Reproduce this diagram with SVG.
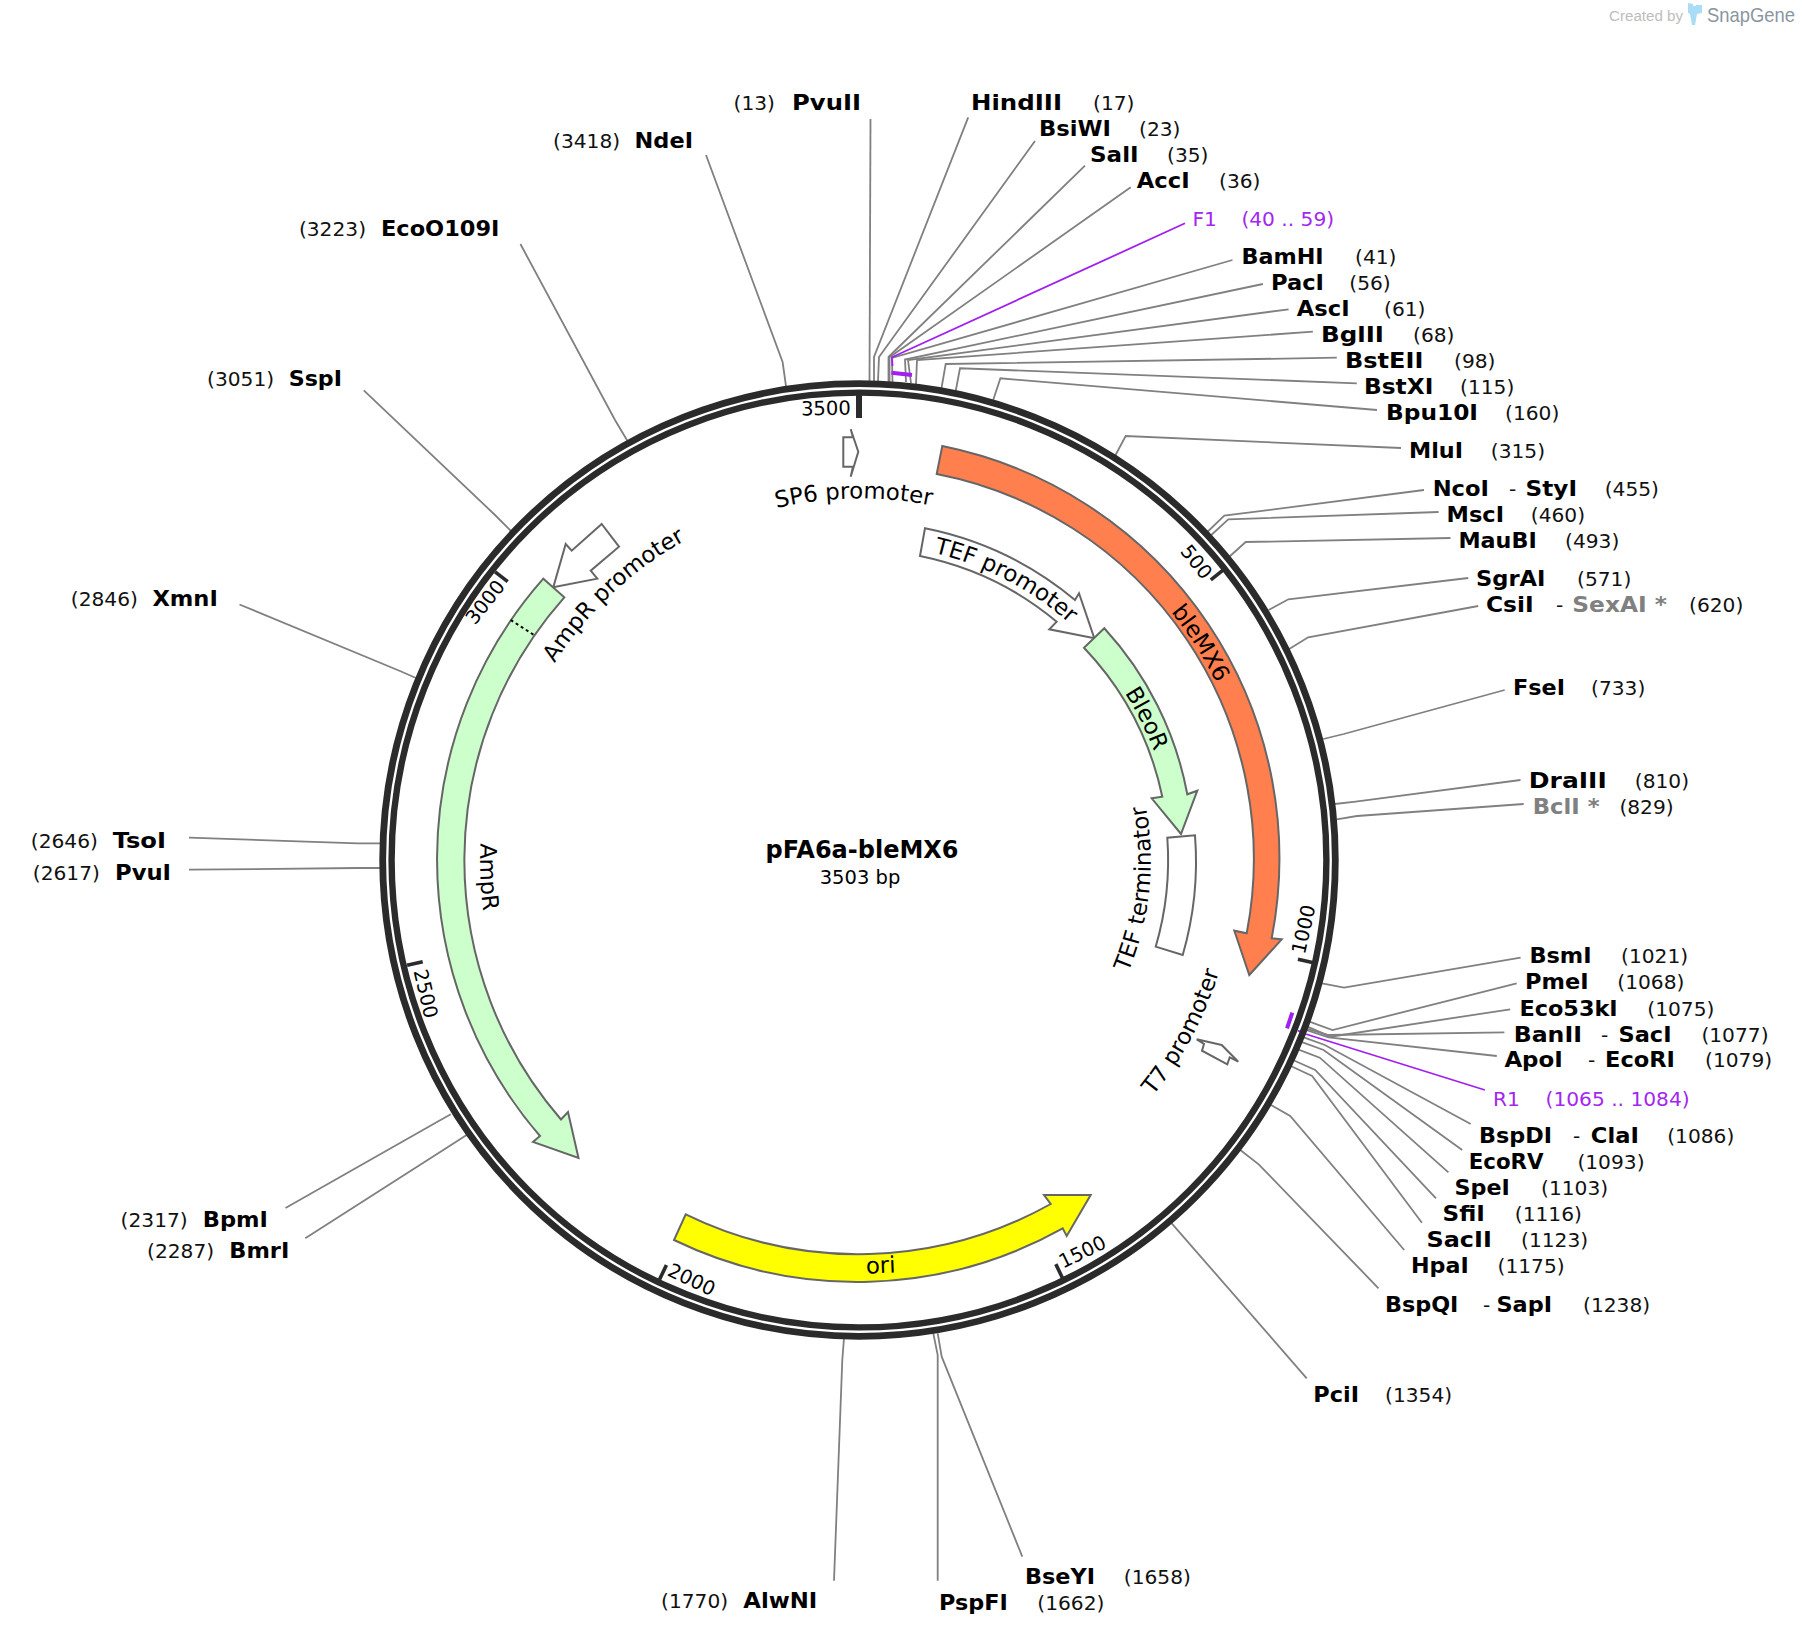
<svg xmlns="http://www.w3.org/2000/svg" width="1802" height="1636" viewBox="0 0 1802 1636">
<style>
text{font-family:"DejaVu Sans","Liberation Sans",sans-serif;fill:#000}
.n{font-weight:700;font-size:22px}
.p{font-size:20.2px;fill:#111}
.g{font-weight:700;font-size:22px;fill:#808080}
.v{font-size:20.2px;fill:#a327f0}
.t{font-size:19.5px;text-anchor:middle}
.f{font-size:22.8px}
.c{fill:none;stroke:#808080;stroke-width:1.8}
.cv{fill:none;stroke:#a020f0;stroke-width:1.8}
.a{stroke:#666;stroke-width:2;stroke-linejoin:miter}
.tk{stroke:#2b2b2b;stroke-width:3.6;fill:none}
</style>
<defs>
<path id="pBle" d="M1115.8,555.1 A398 398 0 0 1 1244.4,757"/>
<path id="pTef" d="M914.9,548.8 A316 316 0 0 1 1083.4,636.6"/>
<path id="pBleo" d="M1095.5,654 A314 314 0 0 1 1167.5,798"/>
<path id="pTerm" d="M1123.8,982.3 A291 291 0 0 0 1143.5,795"/>
<path id="pT7" d="M1102,1147.9 A376 376 0 0 0 1234,900"/>
<path id="pSP6" d="M637.5,575 A361.5 361.5 0 0 1 1072.5,567.5"/>
<path id="pAmpP" d="M502.6,796.6 A365 365 0 0 1 821.8,497"/>
<path id="pAmpR" d="M503,731 A380 380 0 0 0 515.5,1021"/>
</defs>
<rect width="1802" height="1636" fill="#fff"/>

<g id="watermark">
<text x="1609" y="20.5" style="font-family:'Liberation Sans',sans-serif;font-size:14px;fill:#bdbdbd" textLength="74" lengthAdjust="spacingAndGlyphs">Created by</text>
<polygon points="1688,3 1693,4 1693,6 1696,6 1696,5 1702,5 1702,13 1697,14 1695,25 1692,25 1690,14 1688,13" fill="#a9dcf7"/>
<text x="1707" y="21.5" style="font-family:'Liberation Sans',sans-serif;font-size:21px;fill:#8a96a0" textLength="88" lengthAdjust="spacingAndGlyphs">SnapGene</text>
</g>

<g id="connectors">
<polyline class="c" points="870.5,119 869.5,381"/>
<polyline class="c" points="968.2,117.3 874,357 874,381"/>
<polyline class="c" points="1035,141 879,357 878,381"/>
<polyline class="c" points="1085,165.7 888.5,357 888.5,382"/>
<polyline class="c" points="1130.7,187.3 889.5,357.3 889.5,382"/>
<polyline class="c" points="1232.5,260 892,358 892.5,382"/>
<polyline class="c" points="1262.9,284 905,359.5 906,382"/>
<polyline class="c" points="1288.6,309.3 908,360 911,383"/>
<polyline class="c" points="1312.9,331.7 917,360 916,384"/>
<polyline class="c" points="1336.8,357.7 945.7,364 941.5,388"/>
<polyline class="c" points="1356.8,383.3 960,368.3 955.7,391"/>
<polyline class="c" points="1377,410 1000.4,378.3 993.2,400"/>
<polyline class="c" points="1401,448 1125.7,436 1115,456"/>
<polyline class="c" points="1424,490 1224.3,515.7 1207.3,532"/>
<polyline class="c" points="1438.6,512 1228.3,519.3 1211.3,535"/>
<polyline class="c" points="1450.5,538 1245.7,542 1229,557"/>
<polyline class="c" points="1468.3,578 1288.4,599.3 1268.6,610"/>
<polyline class="c" points="1478.2,606 1308.2,637.3 1289.2,649"/>
<polyline class="c" points="1504.7,690 1343.8,734 1323.2,739"/>
<polyline class="c" points="1520.5,780 1355.6,801.7 1334.7,804"/>
<polyline class="c" points="1523.7,804 1357,816 1336.6,819.3"/>
<polyline class="c" points="1520.6,957.7 1344,987.7 1322,983.3"/>
<polyline class="c" points="1516.7,983.3 1332.5,1030 1309.4,1021.7"/>
<polyline class="c" points="1510.2,1009.3 1330.5,1036.7 1307.5,1026.7"/>
<polyline class="c" points="1504.4,1032.3 1328.6,1035 1305.6,1028.3"/>
<polyline class="c" points="1496.8,1056 1328.6,1037.3 1304.4,1029.3"/>
<polyline class="c" points="1470.7,1124 1324.8,1045 1301.7,1036.7"/>
<polyline class="c" points="1462.2,1150 1323.6,1050 1300.6,1041.7"/>
<polyline class="c" points="1448.4,1172.3 1319.8,1057.7 1297.9,1049.3"/>
<polyline class="c" points="1436,1198.3 1315.2,1070 1292.9,1060"/>
<polyline class="c" points="1421.9,1222.7 1312.1,1076 1290.2,1065.7"/>
<polyline class="c" points="1404.2,1250 1290.2,1116 1271,1105"/>
<polyline class="c" points="1378.5,1288.3 1258.7,1164.3 1240.3,1150"/>
<polyline class="c" points="1306.7,1378.3 1171.7,1223.3"/>
<polyline class="c" points="1022.3,1556.7 941.7,1356.7 937.7,1333.3"/>
<polyline class="c" points="937.7,1580.7 937.7,1355 933.3,1333.3"/>
<polyline class="c" points="834,1580.7 842.3,1360 844,1338"/>
<polyline class="c" points="305.3,1238.3 446.8,1147.8 466.6,1135"/>
<polyline class="c" points="285.5,1208 437,1122 450.8,1114.3"/>
<polyline class="c" points="189,869.7 357.8,868 382,868"/>
<polyline class="c" points="189,837.7 357.8,843.3 382,843.3"/>
<polyline class="c" points="239.5,604.5 400,671 416,678"/>
<polyline class="c" points="363.8,390.3 495,515 512,532"/>
<polyline class="c" points="520.4,244 615,420 627.5,441"/>
<polyline class="c" points="706,155 782.6,362 786,386"/>
<polyline class="cv" points="1185,223.3 892,357.3 892.5,366"/>
<polyline class="cv" points="1484.9,1090 1305.6,1034 1298,1030.7"/>
<line x1="891.4" y1="372.7" x2="912" y2="375" stroke="#a020f0" stroke-width="4"/>
<line x1="1292.3" y1="1012.7" x2="1287" y2="1028.3" stroke="#a020f0" stroke-width="4"/>
</g>

<g id="backbone">
<circle cx="859" cy="860" r="476.3" fill="none" stroke="#2b2b2b" stroke-width="6.8"/>
<circle cx="859" cy="860" r="467.4" fill="none" stroke="#2b2b2b" stroke-width="6.4"/>
<line x1="859" y1="393" x2="859" y2="418" stroke="#2b2b2b" stroke-width="6"/>
<line class="tk" x1="1223.3" y1="569.8" x2="1210.8" y2="579.8"/>
<line class="tk" x1="1313.5" y1="962.8" x2="1297.9" y2="959.2"/>
<line class="tk" x1="1062.7" y1="1278.5" x2="1055.8" y2="1264.1"/>
<line class="tk" x1="659.5" y1="1279.6" x2="666.4" y2="1265.1"/>
<line class="tk" x1="407.1" y1="965.3" x2="422.7" y2="961.7"/>
<line class="tk" x1="495.1" y1="571.8" x2="507.7" y2="581.7"/>
<text class="t" transform="translate(826,415) rotate(-1)">3500</text>
<text class="t" transform="translate(1196.7,561.7) rotate(51.4) translate(0,7)">500</text>
<text class="t" transform="translate(1303.3,929.3) rotate(-77.2) translate(0,7)">1000</text>
<text class="t" transform="translate(1082.3,1251.7) rotate(-25.9) translate(0,7)">1500</text>
<text class="t" transform="translate(691.7,1279.3) rotate(25.5) translate(0,7)">2000</text>
<text class="t" transform="translate(426,993.7) rotate(77) translate(0,7)">2500</text>
<text class="t" transform="translate(485,602) rotate(-51.7) translate(0,7)">3000</text>
</g>

<g id="feature-bleMX6">
<path class="a" fill="#ff7f4f" d="M942.3,446 A420.5 420.5 0 0 1 1271.7,938.3 L1281.7,939.3 L1249.3,975 L1234.3,930.7 L1246.7,933.3 A392 392 0 0 0 936.7,474 Z"/>
<text class="f" text-anchor="middle"><textPath href="#pBle" startOffset="50%">bleMX6</textPath></text>
</g>
<g id="feature-TEF-promoter">
<path class="a" fill="#fff" d="M925,528.3 A338 338 0 0 1 1075,600 L1079,593.3 L1094.3,638.3 L1049.3,629.3 L1056.7,621.7 A309.5 309.5 0 0 0 920,556 Z"/>
<text class="f" text-anchor="middle"><textPath href="#pTef" startOffset="50%">TEF promoter</textPath></text>
</g>
<g id="feature-BleoR">
<path class="a" fill="#ccffcc" d="M1104.3,628.3 A336 336 0 0 1 1187.3,794.3 L1197.3,790.7 L1181,834 L1151.7,798.3 L1162.3,796.7 A308.5 308.5 0 0 0 1084,647.7 Z"/>
<text class="f" text-anchor="middle"><textPath href="#pBleo" startOffset="50%">BleoR</textPath></text>
</g>
<g id="feature-TEF-terminator">
<path class="a" fill="#fff" d="M1195,835.3 A336 336 0 0 1 1182.7,955 L1155.7,946.7 A308 308 0 0 0 1167.3,837.7 Z"/>
<text class="f" text-anchor="middle"><textPath href="#pTerm" startOffset="50%">TEF terminator</textPath></text>
</g>
<g id="feature-T7-promoter">
<polygon class="a" fill="#fff" points="1221.7,1045 1196.7,1039.3 1204,1044 1202,1050.7 1227.3,1064.3 1229.7,1057.3 1238.3,1061.7"/>
<text class="f" text-anchor="middle"><textPath href="#pT7" startOffset="50%">T7 promoter</textPath></text>
</g>
<g id="feature-SP6-promoter">
<polygon class="a" fill="#fff" points="858.3,451.7 850.7,429.3 853,437.3 843.3,437.3 843.3,466.7 853,466.7 850.7,476.7"/>
<text class="f" text-anchor="middle"><textPath href="#pSP6" startOffset="50%">SP6 promoter</textPath></text>
</g>
<g id="feature-AmpR-promoter">
<polygon class="a" fill="#fff" points="601.7,524 619,546.7 590.7,570.7 597.3,578.7 553.3,587.3 565.7,544 571.7,550.7"/>
<text class="f" text-anchor="middle"><textPath href="#pAmpP" startOffset="50%">AmpR promoter</textPath></text>
</g>
<g id="feature-AmpR">
<path class="a" fill="#ccffcc" d="M543.3,578.7 A423.5 423.5 0 0 0 540,1136 L533,1142 L578.5,1158 L568,1112 L561,1119.5 A396 396 0 0 1 564.3,597.3 Z"/>
<line x1="510.7" y1="620" x2="534" y2="635" stroke="#000" stroke-width="2" stroke-dasharray="3 3"/>
<text class="f" text-anchor="middle"><textPath href="#pAmpR" startOffset="50%">AmpR</textPath></text>
</g>
<g id="feature-ori">
<path class="a" fill="#ffff00" d="M685.7,1214.3 A394 394 0 0 0 1050.7,1204 L1044,1195 L1090.7,1195 L1066.7,1236 L1062.7,1228.3 A421 421 0 0 1 674,1240 Z"/>
<text class="f" text-anchor="middle" transform="rotate(-2.5 881 1273)" x="881" y="1273">ori</text>
</g>

<g id="title">
<text x="862" y="858" text-anchor="middle" style="font-weight:700;font-size:24px">pFA6a-bleMX6</text>
<text x="860" y="884" text-anchor="middle" style="font-size:19.5px">3503 bp</text>
</g>

<g id="site-PvuII"><text class="p" x="733.5" y="110">(13)</text><text class="n" x="792" y="110" textLength="69" lengthAdjust="spacingAndGlyphs">PvuII</text></g>
<g id="site-HindIII"><text class="n" x="971" y="110" textLength="91" lengthAdjust="spacingAndGlyphs">HindIII</text><text class="p" x="1093" y="110">(17)</text></g>
<g id="site-BsiWI"><text class="n" x="1039" y="136" textLength="72" lengthAdjust="spacingAndGlyphs">BsiWI</text><text class="p" x="1139" y="136">(23)</text></g>
<g id="site-SalI"><text class="n" x="1090" y="162" textLength="48.6" lengthAdjust="spacingAndGlyphs">SalI</text><text class="p" x="1167" y="162">(35)</text></g>
<g id="site-AccI"><text class="n" x="1136.8" y="188" textLength="52.8" lengthAdjust="spacingAndGlyphs">AccI</text><text class="p" x="1219" y="188">(36)</text></g>
<g id="primer-F1"><text class="v" x="1192.5" y="226">F1</text><text class="v" x="1241.4" y="226">(40 .. 59)</text></g>
<g id="site-BamHI"><text class="n" x="1241.4" y="263.5" textLength="82.2" lengthAdjust="spacingAndGlyphs">BamHI</text><text class="p" x="1355" y="263.5">(41)</text></g>
<g id="site-PacI"><text class="n" x="1271" y="289.5" textLength="53" lengthAdjust="spacingAndGlyphs">PacI</text><text class="p" x="1349.3" y="289.5">(56)</text></g>
<g id="site-AscI"><text class="n" x="1296.8" y="315.5" textLength="52.8" lengthAdjust="spacingAndGlyphs">AscI</text><text class="p" x="1384" y="315.5">(61)</text></g>
<g id="site-BglII"><text class="n" x="1321" y="341.5" textLength="63" lengthAdjust="spacingAndGlyphs">BglII</text><text class="p" x="1413" y="341.5">(68)</text></g>
<g id="site-BstEII"><text class="n" x="1345" y="367.5" textLength="78.4" lengthAdjust="spacingAndGlyphs">BstEII</text><text class="p" x="1454" y="367.5">(98)</text></g>
<g id="site-BstXI"><text class="n" x="1364" y="393.5" textLength="69.3" lengthAdjust="spacingAndGlyphs">BstXI</text><text class="p" x="1460" y="393.5">(115)</text></g>
<g id="site-Bpu10I"><text class="n" x="1386" y="419.5" textLength="92" lengthAdjust="spacingAndGlyphs">Bpu10I</text><text class="p" x="1505" y="419.5">(160)</text></g>
<g id="site-MluI"><text class="n" x="1409" y="458" textLength="54" lengthAdjust="spacingAndGlyphs">MluI</text><text class="p" x="1490.8" y="458">(315)</text></g>
<g id="site-NcoI-StyI"><text class="n" x="1432.7" y="496" textLength="56.3" lengthAdjust="spacingAndGlyphs">NcoI</text><text class="p" x="1509" y="496">-</text><text class="n" x="1525.6" y="496" textLength="51.4" lengthAdjust="spacingAndGlyphs">StyI</text><text class="p" x="1604.7" y="496">(455)</text></g>
<g id="site-MscI"><text class="n" x="1446.6" y="521.5" textLength="57.4" lengthAdjust="spacingAndGlyphs">MscI</text><text class="p" x="1530.8" y="521.5">(460)</text></g>
<g id="site-MauBI"><text class="n" x="1458.4" y="547.5" textLength="78.3" lengthAdjust="spacingAndGlyphs">MauBI</text><text class="p" x="1565" y="547.5">(493)</text></g>
<g id="site-SgrAI"><text class="n" x="1476" y="585.7" textLength="69.4" lengthAdjust="spacingAndGlyphs">SgrAI</text><text class="p" x="1577" y="585.7">(571)</text></g>
<g id="site-CsiI-SexAI"><text class="n" x="1486" y="611.7" textLength="47.6" lengthAdjust="spacingAndGlyphs">CsiI</text><text class="p" x="1556" y="611.7">-</text><text class="g" x="1572.3" y="611.7" textLength="94.7" lengthAdjust="spacingAndGlyphs">SexAI *</text><text class="p" x="1689" y="611.7">(620)</text></g>
<g id="site-FseI"><text class="n" x="1513" y="695.3" textLength="52" lengthAdjust="spacingAndGlyphs">FseI</text><text class="p" x="1591" y="695.3">(733)</text></g>
<g id="site-DraIII"><text class="n" x="1528.8" y="787.7" textLength="77.9" lengthAdjust="spacingAndGlyphs">DraIII</text><text class="p" x="1634.8" y="787.7">(810)</text></g>
<g id="site-BclI"><text class="g" x="1532.8" y="814" textLength="66.8" lengthAdjust="spacingAndGlyphs">BclI *</text><text class="p" x="1619.4" y="814">(829)</text></g>
<g id="site-BsmI"><text class="n" x="1529.4" y="963.3" textLength="62.2" lengthAdjust="spacingAndGlyphs">BsmI</text><text class="p" x="1621" y="963.3">(1021)</text></g>
<g id="site-PmeI"><text class="n" x="1525" y="989.3" textLength="63.5" lengthAdjust="spacingAndGlyphs">PmeI</text><text class="p" x="1617.3" y="989.3">(1068)</text></g>
<g id="site-Eco53kI"><text class="n" x="1519.4" y="1015.7" textLength="98.3" lengthAdjust="spacingAndGlyphs">Eco53kI</text><text class="p" x="1647.3" y="1015.7">(1075)</text></g>
<g id="site-BanII-SacI"><text class="n" x="1513.7" y="1041.7" textLength="68.3" lengthAdjust="spacingAndGlyphs">BanII</text><text class="p" x="1601" y="1041.7">-</text><text class="n" x="1618.5" y="1041.7" textLength="53" lengthAdjust="spacingAndGlyphs">SacI</text><text class="p" x="1701.4" y="1041.7">(1077)</text></g>
<g id="site-ApoI-EcoRI"><text class="n" x="1504.4" y="1067.3" textLength="58.4" lengthAdjust="spacingAndGlyphs">ApoI</text><text class="p" x="1588" y="1067.3">-</text><text class="n" x="1605" y="1067.3" textLength="70" lengthAdjust="spacingAndGlyphs">EcoRI</text><text class="p" x="1705" y="1067.3">(1079)</text></g>
<g id="primer-R1"><text class="v" x="1493" y="1105.7">R1</text><text class="v" x="1545.5" y="1105.7">(1065 .. 1084)</text></g>
<g id="site-BspDI-ClaI"><text class="n" x="1479" y="1143.3" textLength="73" lengthAdjust="spacingAndGlyphs">BspDI</text><text class="p" x="1573" y="1143.3">-</text><text class="n" x="1590.8" y="1143.3" textLength="48" lengthAdjust="spacingAndGlyphs">ClaI</text><text class="p" x="1667.2" y="1143.3">(1086)</text></g>
<g id="site-EcoRV"><text class="n" x="1468.7" y="1169.3" textLength="74.9" lengthAdjust="spacingAndGlyphs">EcoRV</text><text class="p" x="1577.4" y="1169.3">(1093)</text></g>
<g id="site-SpeI"><text class="n" x="1454.5" y="1195.3" textLength="55.3" lengthAdjust="spacingAndGlyphs">SpeI</text><text class="p" x="1541" y="1195.3">(1103)</text></g>
<g id="site-SfiI"><text class="n" x="1442.6" y="1221" textLength="42.3" lengthAdjust="spacingAndGlyphs">SfiI</text><text class="p" x="1514.8" y="1221">(1116)</text></g>
<g id="site-SacII"><text class="n" x="1426.5" y="1247.3" textLength="65.3" lengthAdjust="spacingAndGlyphs">SacII</text><text class="p" x="1521" y="1247.3">(1123)</text></g>
<g id="site-HpaI"><text class="n" x="1411" y="1273.3" textLength="57.7" lengthAdjust="spacingAndGlyphs">HpaI</text><text class="p" x="1497.5" y="1273.3">(1175)</text></g>
<g id="site-BspQI-SapI"><text class="n" x="1385" y="1311.7" textLength="73.4" lengthAdjust="spacingAndGlyphs">BspQI</text><text class="p" x="1483" y="1311.7">-</text><text class="n" x="1496.4" y="1311.7" textLength="55.6" lengthAdjust="spacingAndGlyphs">SapI</text><text class="p" x="1583" y="1311.7">(1238)</text></g>
<g id="site-PciI"><text class="n" x="1313.3" y="1401.7" textLength="45.7" lengthAdjust="spacingAndGlyphs">PciI</text><text class="p" x="1385" y="1401.7">(1354)</text></g>
<g id="site-BseYI"><text class="n" x="1025" y="1584" textLength="70" lengthAdjust="spacingAndGlyphs">BseYI</text><text class="p" x="1123.8" y="1584">(1658)</text></g>
<g id="site-PspFI"><text class="n" x="939" y="1610" textLength="68.7" lengthAdjust="spacingAndGlyphs">PspFI</text><text class="p" x="1037.3" y="1610">(1662)</text></g>
<g id="site-AlwNI"><text class="p" x="661" y="1607.7">(1770)</text><text class="n" x="743.3" y="1607.7" textLength="74" lengthAdjust="spacingAndGlyphs">AlwNI</text></g>
<g id="site-BmrI"><text class="p" x="147" y="1257.7">(2287)</text><text class="n" x="229.3" y="1257.7" textLength="60" lengthAdjust="spacingAndGlyphs">BmrI</text></g>
<g id="site-BpmI"><text class="p" x="120.6" y="1227.3">(2317)</text><text class="n" x="202.8" y="1227.3" textLength="65.2" lengthAdjust="spacingAndGlyphs">BpmI</text></g>
<g id="site-PvuI"><text class="p" x="32.8" y="880">(2617)</text><text class="n" x="115" y="880" textLength="56" lengthAdjust="spacingAndGlyphs">PvuI</text></g>
<g id="site-TsoI"><text class="p" x="30.8" y="848.3">(2646)</text><text class="n" x="112.7" y="848.3" textLength="53.3" lengthAdjust="spacingAndGlyphs">TsoI</text></g>
<g id="site-XmnI"><text class="p" x="70.8" y="605.7">(2846)</text><text class="n" x="152.4" y="605.7" textLength="65.4" lengthAdjust="spacingAndGlyphs">XmnI</text></g>
<g id="site-SspI"><text class="p" x="207" y="386">(3051)</text><text class="n" x="288.7" y="386" textLength="53.3" lengthAdjust="spacingAndGlyphs">SspI</text></g>
<g id="site-EcoO109I"><text class="p" x="298.9" y="236">(3223)</text><text class="n" x="381" y="236" textLength="118.4" lengthAdjust="spacingAndGlyphs">EcoO109I</text></g>
<g id="site-NdeI"><text class="p" x="553" y="147.9">(3418)</text><text class="n" x="634.6" y="147.9" textLength="58.4" lengthAdjust="spacingAndGlyphs">NdeI</text></g>
</svg>
